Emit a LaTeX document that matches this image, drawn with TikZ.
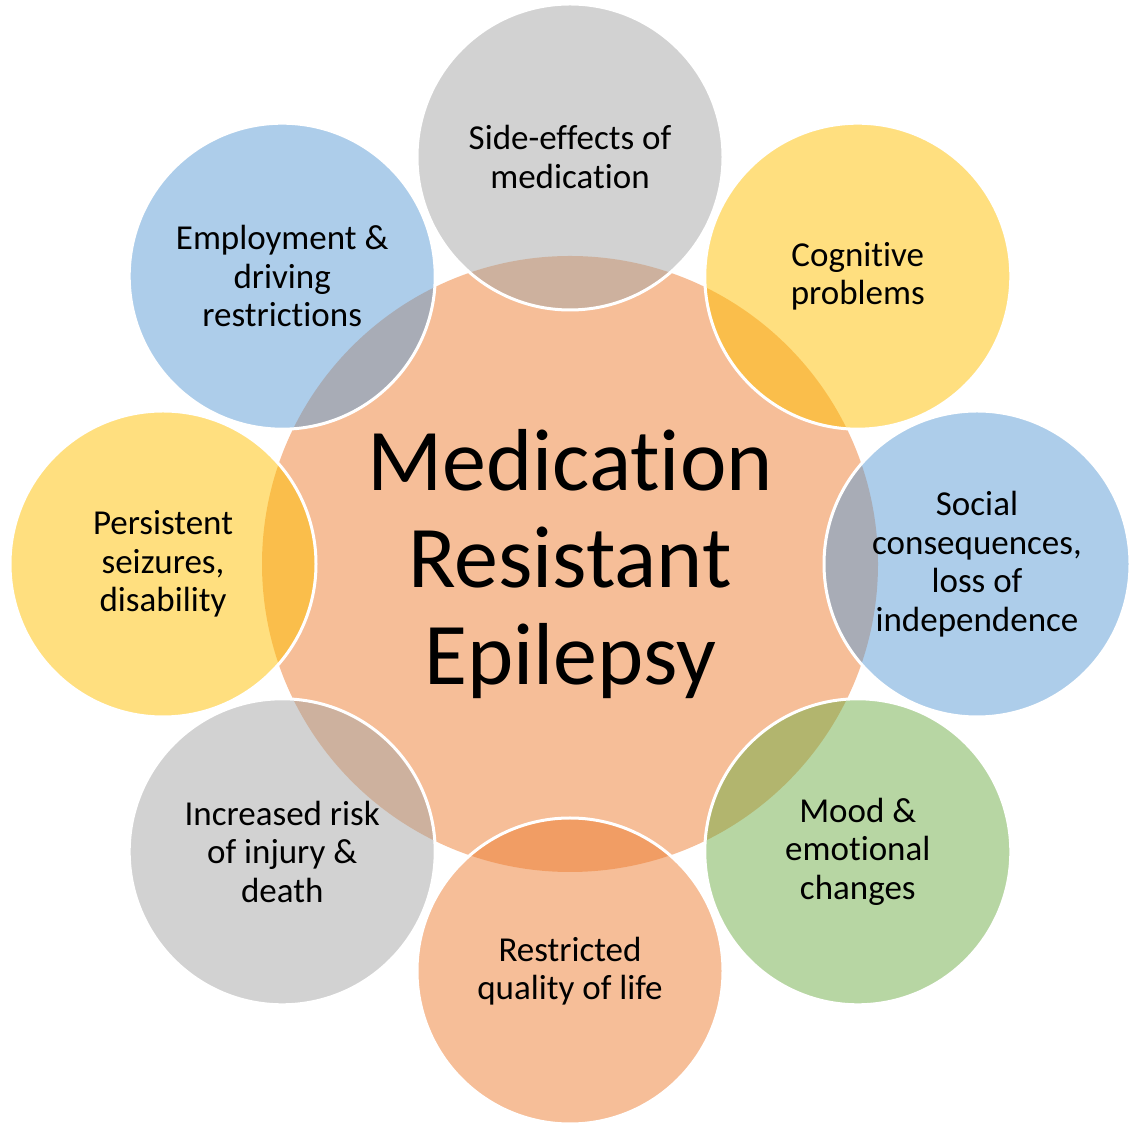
\documentclass[tikz,border=0pt]{standalone}
\usepackage{fontspec}
\setmainfont{Carlito}[Ligatures={NoCommon}]
\definecolor{oorange}{HTML}{ED7D31}
\definecolor{ogray}{HTML}{A5A5A5}
\definecolor{ogold}{HTML}{FFC000}
\definecolor{oblue}{HTML}{5B9BD5}
\definecolor{ogreen}{HTML}{70AD47}
\begin{document}
\begin{tikzpicture}[x=1pt,y=1pt,
  hub/.style={circle, minimum size=616pt, inner sep=0pt, fill=oorange,
    fill opacity=0.5, text opacity=1, align=center,
    font=\fontsize{88}{97}\selectfont},
  petal/.style={circle, minimum size=306pt, inner sep=0pt, fill=#1,
    fill opacity=0.5, draw=white, draw opacity=1, line width=3pt,
    text opacity=1, align=center, font=\fontsize{35}{38.5}\selectfont}]
\useasboundingbox (0,0) rectangle (1140,1129);
\node[hub] (hub) at (570,565) {Medication\\Resistant\\Epilepsy};
\node[petal=ogray]   (side)   at (570,972)     {Side-effects of\\medication};
\node[petal=ogold]   (cog)    at (857.8,852.8) {Cognitive\\problems};
\node[petal=oblue]   (social) at (977,565)     {Social\\consequences,\\loss of\\independence};
\node[petal=ogreen]  (mood)   at (857.8,277.2) {Mood \&\\emotional\\changes};
\node[petal=oorange] (life)   at (570,158)     {Restricted\\quality of life};
\node[petal=ogray]   (injury) at (282.2,277.2) {Increased risk\\of injury \&\\death};
\node[petal=ogold]   (seiz)   at (163,565)     {Persistent\\seizures,\\disability};
\node[petal=oblue]   (employ) at (282.2,852.8) {Employment \&\\driving\\restrictions};
\end{tikzpicture}
\end{document}
